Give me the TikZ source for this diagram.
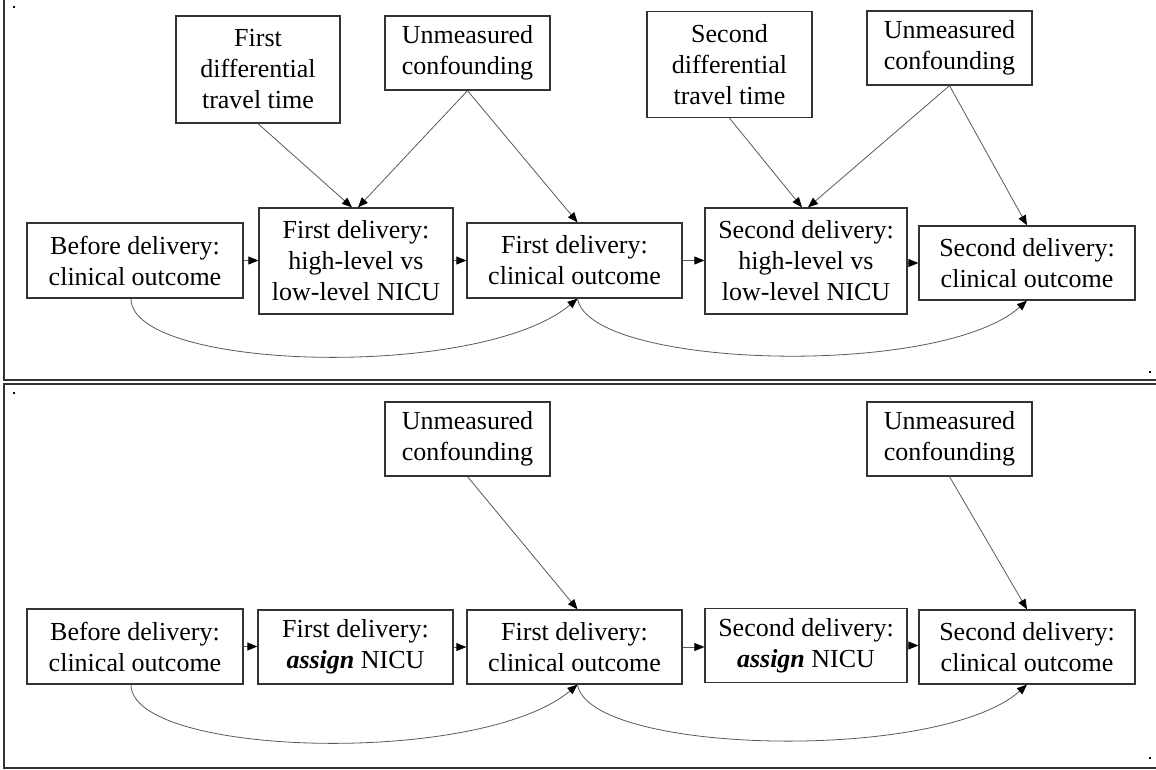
\documentclass[tikz,border=0pt]{standalone}
\usepackage{fontspec}
\setmainfont{Liberation Serif}
\usetikzlibrary{arrows.meta}

\begin{document}
\begin{tikzpicture}[x=1pt, y=-1pt,
  box/.style={draw=black!80, line width=1.3pt, align=center, inner sep=0pt,
    font=\fontsize{26}{31}\selectfont},
  arr/.style={draw=black!65, line width=0.8pt, -{Triangle[length=10pt,width=8pt,black]}},
  frame/.style={draw=black!80, line width=2pt},
  speck/.style={fill=black, minimum size=2.5pt, inner sep=0pt}]

  \useasboundingbox (0,0) rectangle (1156,769);

  % panel frames
  \draw[frame] (4,-2) -- (4,380) -- (1158,380);
  \draw[frame] (1158,384) -- (4,384) -- (4,767.5) -- (1158,767.5);
  \node[speck] (s1) at (14,7) {};
  \node[speck] (s2) at (1150,372) {};
  \node[speck] (s3) at (14,393) {};
  \node[speck] (s4) at (1150,758) {};

  % upper panel
  \node[box, minimum width=164pt, minimum height=107pt] (tt1) at (258,69.5) {First\\differential\\travel time};
  \node[box, minimum width=165pt, minimum height=74pt] (uc1) at (467.5,53) {Unmeasured\\confounding};
  \node[box, minimum width=165pt, minimum height=106pt] (tt2) at (729.5,64.5) {Second\\differential\\travel time};
  \node[box, minimum width=165pt, minimum height=74pt] (uc2) at (949.5,48) {Unmeasured\\confounding};

  \node[box, minimum width=216pt, minimum height=75pt] (bd1) at (135,260.5) {Before delivery:\\clinical outcome};
  \node[box, minimum width=194pt, minimum height=106pt] (fd1) at (356,261) {First delivery:\\high-level vs\\low-level NICU};
  \node[box, minimum width=215pt, minimum height=75pt] (fo1) at (574.5,260.5) {First delivery:\\clinical outcome};
  \node[box, minimum width=202pt, minimum height=106pt] (sd1) at (806,261) {Second delivery:\\high-level vs\\low-level NICU};
  \node[box, minimum width=216pt, minimum height=74pt] (so1) at (1027,263) {Second delivery:\\clinical outcome};

  \draw[arr] (tt1.south) -- ([xshift=-4pt]fd1.north);
  \draw[arr] (uc1.south) -- ([xshift=2pt]fd1.north);
  \draw[arr] (uc1.south) -- ([xshift=3pt]fo1.north);
  \draw[arr] (tt2.south) -- ([xshift=-4pt]sd1.north);
  \draw[arr] (uc2.south) -- ([xshift=2pt]sd1.north);
  \draw[arr] (uc2.south) -- (so1.north);

  \draw[arr] (bd1.east) -- (bd1.east -| fd1.west);
  \draw[arr] (fd1.east |- fo1.east) -- (fo1.east -| fo1.west);
  \draw[arr] (fo1.east) -- (fo1.east -| sd1.west);
  \draw[arr] (sd1.east |- so1.east) -- (so1.west);

  \draw[arr] ([xshift=-4pt]bd1.south) .. controls +(0,72) and +(-98,82) .. ([xshift=3pt]fo1.south);
  \draw[arr] ([xshift=3pt]fo1.south) .. controls +(12,70) and +(-88,78) .. (so1.south);

  % lower panel
  \node[box, minimum width=165pt, minimum height=74pt] (ua) at (467.5,439) {Unmeasured\\confounding};
  \node[box, minimum width=165pt, minimum height=74pt] (ub) at (949.5,439) {Unmeasured\\confounding};

  \node[box, minimum width=216pt, minimum height=75pt] (bd2) at (135,646.5) {Before delivery:\\clinical outcome};
  \node[box, minimum width=195pt, minimum height=74pt] (fa2) at (355.5,647) {First delivery:\\\textbf{\textit{assign}} NICU};
  \node[box, minimum width=215pt, minimum height=74pt] (fo2) at (574.5,647) {First delivery:\\clinical outcome};
  \node[box, minimum width=202pt, minimum height=74pt] (sa2) at (806,645.5) {Second delivery:\\\textbf{\textit{assign}} NICU};
  \node[box, minimum width=216pt, minimum height=74pt] (so2) at (1027,647) {Second delivery:\\clinical outcome};

  \draw[arr] (ua.south) -- ([xshift=3pt]fo2.north);
  \draw[arr] (ub.south) -- (so2.north);

  \draw[arr] (bd2.east) -- (bd2.east -| fa2.west);
  \draw[arr] (fa2.east) -- (fa2.east -| fo2.west);
  \draw[arr] (fo2.east) -- (fo2.east -| sa2.west);
  \draw[arr] (sa2.east) -- (sa2.east -| so2.west);

  \draw[arr] ([xshift=-4pt]bd2.south) .. controls +(0,72) and +(-98,82) .. ([xshift=3pt]fo2.south);
  \draw[arr] ([xshift=3pt]fo2.south) .. controls +(12,70) and +(-88,78) .. (so2.south);

\end{tikzpicture}
\end{document}
